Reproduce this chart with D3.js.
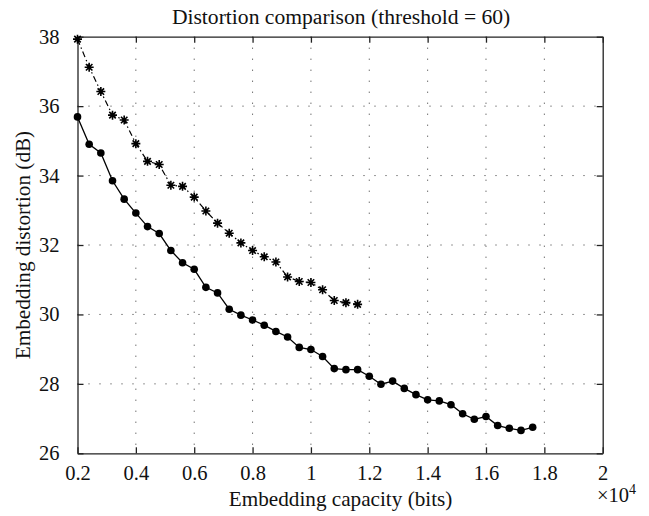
<!DOCTYPE html>
<html><head><meta charset="utf-8">
<script src="https://cdn.jsdelivr.net/npm/d3@7"></script>
<style>body{margin:0;background:#fff}svg{display:block}text{font-family:"Liberation Serif","DejaVu Serif",serif;fill:#111}</style>
</head><body>
<script>
const title = "Distortion comparison (threshold = 60)";
const xLabel = "Embedding capacity (bits)";
const yLabel = "Embedding distortion (dB)";
const xTicks = [0.2,0.4,0.6,0.8,1.0,1.2,1.4,1.6,1.8,2.0];
const yTicks = [26,28,30,32,34,36,38];
const capA = [0.20,0.24,0.28,0.32,0.36,0.40,0.44,0.48,0.52,0.56,0.60,0.64,0.68,0.72,0.76,0.80,0.84,0.88,0.92,0.96,1.00,1.04,1.08,1.12,1.16,1.20,1.24,1.28,1.32,1.36,1.40,1.44,1.48,1.52,1.56,1.60,1.64,1.68,1.72,1.76];
const distA = [35.69,34.90,34.65,33.85,33.32,32.92,32.53,32.33,31.84,31.49,31.30,30.78,30.62,30.15,29.98,29.84,29.69,29.51,29.35,29.05,28.99,28.79,28.44,28.41,28.41,28.22,27.99,28.08,27.87,27.69,27.54,27.51,27.40,27.14,26.98,27.06,26.80,26.72,26.66,26.75];
const capB = [0.20,0.24,0.28,0.32,0.36,0.40,0.44,0.48,0.52,0.56,0.60,0.64,0.68,0.72,0.76,0.80,0.84,0.88,0.92,0.96,1.00,1.04,1.08,1.12,1.16];
const distB = [37.93,37.12,36.42,35.74,35.60,34.92,34.41,34.32,33.72,33.69,33.38,32.98,32.63,32.34,32.06,31.84,31.66,31.51,31.08,30.95,30.92,30.71,30.40,30.34,30.29];

const W = 649, H = 516;
const L = 77.5, R = 602.7, T = 36.7, B = 453.3;
const svg = d3.select("body").append("svg").attr("width", W).attr("height", H);
const x = d3.scaleLinear().domain([0.2, 2]).range([L, R]);
const y = d3.scaleLinear().domain([26, 38]).range([B, T]);
const fs = 20.5;

// grid
const grid = svg.append("g").attr("stroke", "#333").attr("stroke-width", 1).attr("stroke-dasharray", "1,10");
grid.selectAll("line.gx").data(xTicks.slice(1, -1)).join("line")
  .attr("x1", d => x(d)).attr("x2", d => x(d)).attr("y1", T).attr("y2", B);
grid.selectAll("line.gy").data(yTicks.slice(1, -1)).join("line")
  .attr("y1", d => y(d)).attr("y2", d => y(d)).attr("x1", L).attr("x2", R);

// axes
const fmt = d => d3.format("~g")(+d.toFixed(1));
const ax = svg.append("g").attr("transform", `translate(0,${B})`)
  .call(d3.axisBottom(x).tickValues(xTicks).tickSizeInner(-6).tickSizeOuter(0).tickPadding(12).tickFormat(fmt));
const axTop = svg.append("g").attr("transform", `translate(0,${T})`)
  .call(d3.axisTop(x).tickValues(xTicks).tickSizeInner(-6).tickSizeOuter(0).tickFormat(""));
const ay = svg.append("g").attr("transform", `translate(${L},0)`)
  .call(d3.axisLeft(y).tickValues(yTicks).tickSizeInner(-6).tickSizeOuter(0).tickPadding(18).tickFormat(d3.format("d")));
const ayR = svg.append("g").attr("transform", `translate(${R},0)`)
  .call(d3.axisRight(y).tickValues(yTicks).tickSizeInner(-6).tickSizeOuter(0).tickFormat(""));
[ax, axTop, ay, ayR].forEach(g => {
  g.selectAll(".domain").attr("stroke", "#222").attr("stroke-width", 1.3);
  g.selectAll(".tick line").attr("stroke", "#222").attr("stroke-width", 1.3);
  g.selectAll("text").attr("font-size", fs).attr("font-family", "Liberation Serif").attr("fill", "#111");
});

// series A: solid with filled circles
const line = (xs, ys) => d3.line().x((d, i) => x(xs[i])).y((d, i) => y(ys[i]))(ys);
svg.append("path").attr("d", line(capA, distA)).attr("fill", "none").attr("stroke", "#000").attr("stroke-width", 1.3);
svg.append("g").selectAll("circle").data(distA).join("circle")
  .attr("cx", (d, i) => x(capA[i])).attr("cy", d => y(d)).attr("r", 3.8).attr("fill", "#000");

// series B: dash-dot with asterisks
svg.append("path").attr("d", line(capB, distB)).attr("fill", "none").attr("stroke", "#000")
  .attr("stroke-width", 1.2).attr("stroke-dasharray", "6,3,1.5,3");
const asterisk = { draw(ctx, size) { const r = Math.sqrt(size) / 2; const q = r * 0.72;
  ctx.moveTo(-r, 0); ctx.lineTo(r, 0); ctx.moveTo(0, -r); ctx.lineTo(0, r);
  ctx.moveTo(-q, -q); ctx.lineTo(q, q); ctx.moveTo(-q, q); ctx.lineTo(q, -q); } };
svg.append("g").selectAll("path").data(distB).join("path")
  .attr("transform", (d, i) => `translate(${x(capB[i])},${y(d)})`)
  .attr("d", d3.symbol().type(asterisk).size(81)).attr("fill", "none").attr("stroke", "#000").attr("stroke-width", 1.6);

// labels
svg.append("text").attr("x", (L + R) / 2 + 1).attr("y", 24).attr("text-anchor", "middle").attr("font-size", 21.6).text(title);
svg.append("text").attr("x", (L + R) / 2 + 0.5).attr("y", 506).attr("text-anchor", "middle").attr("font-size", 21.2).text(xLabel);
svg.append("text").attr("transform", `translate(30,${(T + B) / 2}) rotate(-90)`).attr("text-anchor", "middle").attr("font-size", 21.2).text(yLabel);
const ex = svg.append("text").attr("x", 597).attr("y", 502).attr("font-size", fs);
ex.append("tspan").text("×10");
ex.append("tspan").attr("dy", -8).attr("font-size", 14).text("4");
</script>
</body></html>
